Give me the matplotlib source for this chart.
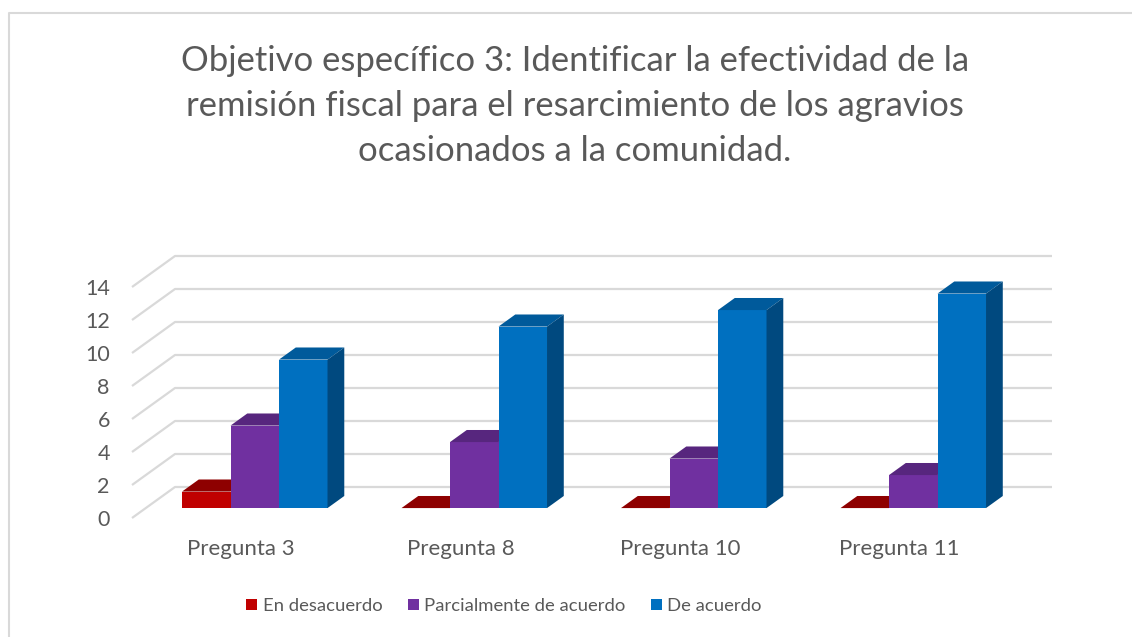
import numpy as np
import matplotlib.pyplot as plt
from matplotlib.patches import Polygon
from matplotlib.lines import Line2D

# Data
categories = ["Pregunta 3", "Pregunta 8", "Pregunta 10", "Pregunta 11"]
series_names = ["En desacuerdo", "Parcialmente de acuerdo", "De acuerdo"]
en_desacuerdo = [1, 0, 0, 0]
parcialmente = [5, 4, 3, 2]
de_acuerdo = [9, 11, 12, 13]
yticks = [0, 2, 4, 6, 8, 10, 12, 14]

title = ("Objetivo específico 3: Identificar la efectividad de la\n"
         "remisión fiscal para el resarcimiento de los agravios\n"
         "ocasionados a la comunidad.")

front_cols = ["#C00000", "#7030A0", "#0070C0"]
top_cols = ["#8E0000", "#57267E", "#005A9B"]
side_col = "#00497F"
grid_col = "#D9D9D9"
txt_col = "#595959"
font = "Lato"

W, H = 1132, 637
fig = plt.figure(figsize=(W / 100, H / 100), dpi=100)
ax = fig.add_axes([0, 0, 1, 1])

# pixel scales (group spacing / value unit)
px_x = 219.5
px_y = 16.5
x0_px = 241.0      # group 0 centre at floor front
y0_px = H - 518.0  # value 0 at floor front
ax.set_xlim(-x0_px / px_x, (W - x0_px) / px_x)
ax.set_ylim(-y0_px / px_y, (H - y0_px) / px_y)

# depth of the floor (front -> back)
DX = 43 / px_x
DY = 31 / px_y
d_front, d_back = 0.32, 0.71
bw = 48.5 / px_x

# gridlines: left wall diagonal + back wall
x_left = (132 - x0_px) / px_x
x_right = (1052 - x0_px) / px_x
for v in yticks:
    ax.plot([x_left, x_left + DX, x_right], [v, v + DY, v + DY],
            color=grid_col, lw=1.6, zorder=1, solid_capstyle="butt")

values = [en_desacuerdo, parcialmente, de_acuerdo]
ddx = (d_back - d_front) * DX
ddy = (d_back - d_front) * DY
x_pos = np.arange(len(categories))
base = d_front * DY
for j, vals in enumerate(values):
    xs = x_pos + d_front * DX + (j - 1) * bw
    bars = ax.bar(xs, vals, width=bw, bottom=base, color=front_cols[j],
                  lw=0, zorder=3 + j, label=series_names[j])
    for b in bars:
        xl = b.get_x()
        xr = xl + b.get_width()
        top = b.get_y() + b.get_height()
        ax.add_patch(Polygon([(xl, top), (xr, top), (xr + ddx, top + ddy),
                              (xl + ddx, top + ddy)], closed=True,
                             fc=top_cols[j], lw=0, zorder=3 + j))
        if j == len(values) - 1:
            ax.add_patch(Polygon([(xr, base), (xr + ddx, base + ddy),
                                  (xr + ddx, top + ddy), (xr, top)],
                                 closed=True, fc=side_col, lw=0, zorder=3 + j))

# axes: tick labels only
for s in ["top", "right"]:
    ax.spines[s].set_visible(False)
ax.spines["left"].set_position(("data", x_left))
ax.spines["bottom"].set_position(("data", 0))
ax.spines["left"].set_visible(False)
ax.spines["bottom"].set_visible(False)
ax.set_yticks(yticks)
ax.set_xticks(x_pos)
ax.set_xticklabels(categories)
ax.tick_params(axis="y", length=0, pad=16, labelsize=15.5, labelcolor=txt_col)
ax.tick_params(axis="x", length=0, pad=15, labelsize=16, labelcolor=txt_col)
for lab in ax.get_xticklabels() + ax.get_yticklabels():
    lab.set_family(font)

fig.text(0.508, 1 - 106 / H, title, ha="center", va="center",
         fontsize=24.9, color=txt_col, family=font,
         linespacing=1.5)

handles = [plt.Rectangle((0, 0), 1, 1, fc=c) for c in front_cols]
fig.legend(handles, series_names, loc="center", bbox_to_anchor=(504 / W, 1 - 606 / H),
           ncol=3, frameon=False, handlelength=0.6, handleheight=0.6,
           handletextpad=0.3, columnspacing=1.35,
           prop={"family": font, "size": 13.3}, labelcolor=txt_col)

# chart border (left / top)
fig.add_artist(Line2D([9 / W, 9 / W, 1], [0, 1 - 13 / H, 1 - 13 / H],
                      color="#D9D9D9", lw=1.5))

fig.savefig("out.png", dpi=100)
